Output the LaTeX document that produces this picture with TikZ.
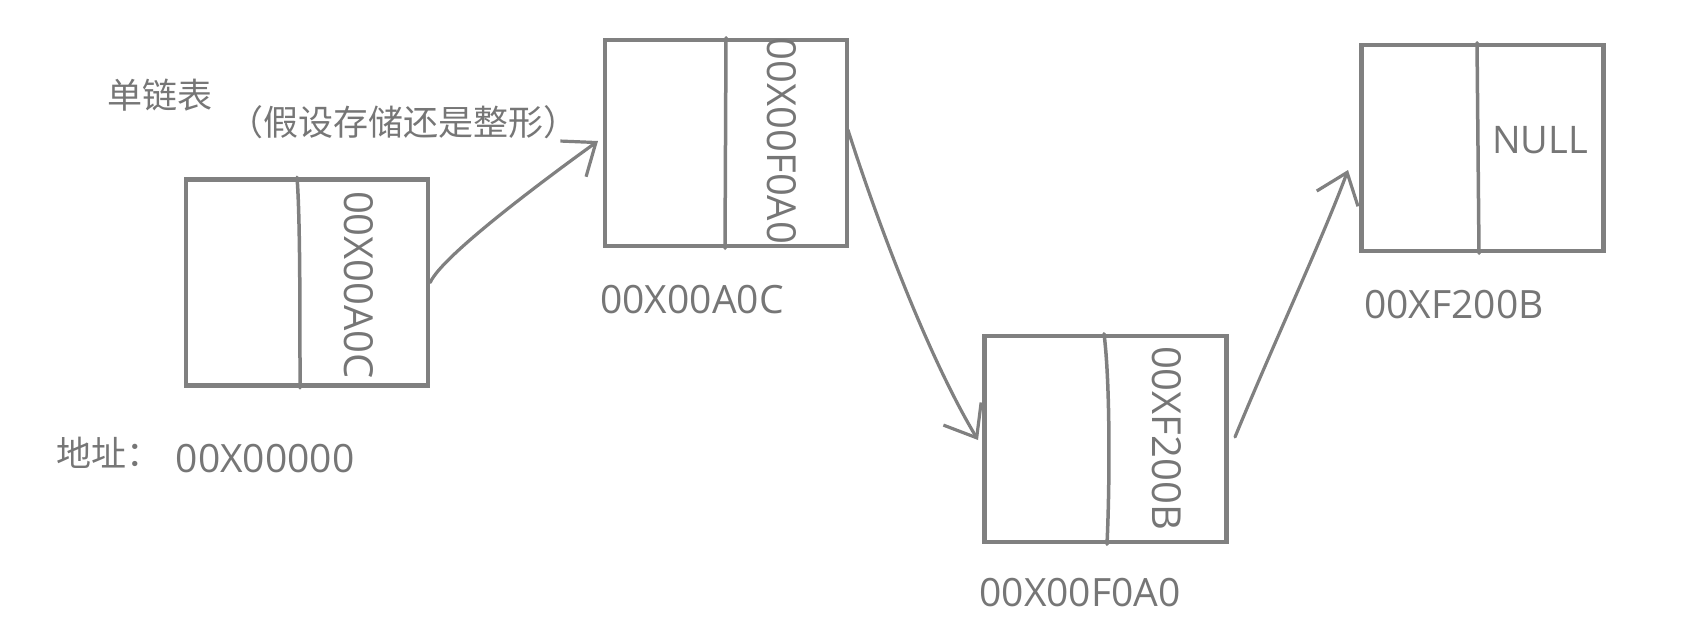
\documentclass[tikz,border=0pt]{standalone}
\usepackage{fontspec}
\setmainfont{Open Sans}
\newfontfamily\cjk{Noto Sans CJK SC}
\usetikzlibrary{arrows.meta}
\definecolor{ln}{RGB}{128,128,128}
\definecolor{tx}{RGB}{118,118,118}
\begin{document}
\begin{tikzpicture}[x=1pt,y=-1pt,
  cell/.style={draw=ln,line width=4.5pt,minimum width=242pt,minimum height=206pt,inner sep=0pt},
  lbl/.style={text=tx,font=\fontsize{39}{42}\selectfont,inner sep=0pt},
  clbl/.style={text=tx,font=\cjk\fontsize{35}{40}\selectfont,inner sep=0pt},
  vlbl/.style={text=tx,font=\fontsize{40}{42}\selectfont,inner sep=0pt,rotate=-90},
  div/.style={draw=ln,line width=3.5pt,line cap=round},
  link/.style={draw=ln,line width=3.2pt,line cap=round,line join=round,-{Straight Barb[length=28pt,width=44pt,line width=3.2pt]}}]
\useasboundingbox (0,0) rectangle (1704,632);
% cells
\node[cell] (b1) at (307,282.5) {};
\node[cell] (b2) at (726,143) {};
\node[cell] (b3) at (1105.5,439) {};
\node[cell] (b4) at (1482.5,148) {};
% dividers
\draw[div] (b1.north -| 297,0) .. controls (300,215) and (300,300) .. (b1.south -| 300,0);
\draw[div] (b2.north -| 726,0) -- (b2.south -| 725,0);
\draw[div] (b3.north -| 1104,0) .. controls (1110,380) and (1110,480) .. (b3.south -| 1107,0);
\draw[div] (b4.north -| 1477,0) -- (b4.south -| 1479,0);
% cell contents
\node[vlbl] (p1) at (359,285) {00X00A0C};
\node[vlbl] (p2) at (782,141) {00X00F0A0};
\node[vlbl] (p3) at (1167,438) {00XF200B};
\node[text=tx,font=\fontsize{38}{40}\selectfont,inner sep=0pt] (p4) at (1540,140) {NULL};
% labels
\node[clbl] (title) at (160,95) {单链表};
\node[clbl] (note) at (403,122) {（假设存储还是整形）};
\node[clbl,anchor=west] (addr) at (56,453) {地址：};
\node[lbl] (a1) at (265,459) {00X00000};
\node[lbl] (a2) at (692,300) {00X00A0C};
\node[lbl] (a3) at (1080,593) {00X00F0A0};
\node[lbl] (a4) at (1454,305) {00XF200B};
% arrow tips
\coordinate (t1) at (598,141);
\coordinate (t2) at (978,440);
\coordinate (t3) at (1348,170);
\coordinate (s2) at (848,130);
\coordinate (s3) at (1235,437);
% links
\draw[link] (b1.east) .. controls (442,255) and (555,172) .. (t1);
\draw[link] (s2) .. controls (880,230) and (930,360) .. (t2);
\draw[link] (s3) .. controls (1275,340) and (1322,240) .. (t3);
\end{tikzpicture}
\end{document}
